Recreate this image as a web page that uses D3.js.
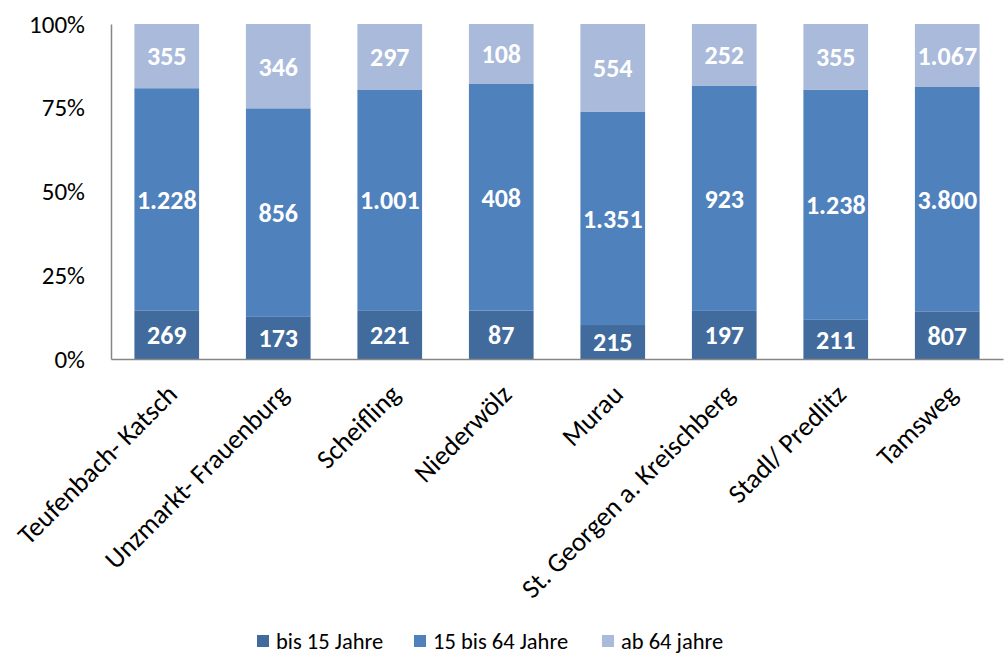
<!DOCTYPE html>
<html>
<head>
<meta charset="utf-8">
<script src="https://cdn.jsdelivr.net/npm/d3@7"></script>
<style>
  body { margin: 0; background: #fff; }
  svg { font-family: Calibri, Carlito, Lato, "Open Sans", sans-serif; }
</style>
</head>
<body>
<svg id="chart" width="1008" height="655"></svg>
<script>
// data
var orte = ["Teufenbach- Katsch", "Unzmarkt- Frauenburg", "Scheifling", "Niederwölz",
            "Murau", "St. Georgen a. Kreischberg", "Stadl/ Predlitz", "Tamsweg"];
var bis15 = [269, 173, 221, 87, 215, 197, 211, 807];
var mitte = [1228, 856, 1001, 408, 1351, 923, 1238, 3800];
var ab64 = [355, 346, 297, 108, 554, 252, 355, 1067];
var serien = ["bis 15 Jahre", "15 bis 64 Jahre", "ab 64 jahre"];
var farben = ["#416b9c", "#4f81bd", "#a9badb"];
var yTicks = [0, 0.25, 0.5, 0.75, 1];

var rows = orte.map(function(o, i) {
    return { ort: o, s0: bis15[i], s1: mitte[i], s2: ab64[i] };
});

var svg = d3.select("#chart");

var x = d3.scaleBand()
    .domain(orte)
    .range([111, 1003])
    .paddingInner(0.42)
    .paddingOuter(0.21);

var y = d3.scaleLinear()
    .domain([0, 1])
    .range([359, 24]);

var stack = d3.stack()
    .keys(["s0", "s1", "s2"])
    .offset(d3.stackOffsetExpand);

var layers = stack(rows);

var fmt = d3.formatLocale({ decimal: ",", thousands: ".", grouping: [3], currency: ["", "€"] }).format(",");

// bars
var g = svg.selectAll("g.layer")
    .data(layers)
    .enter()
    .append("g")
    .attr("class", "layer")
    .attr("fill", function(d, i) { return farben[i]; });

g.selectAll("rect")
    .data(function(d) { return d; })
    .enter()
    .append("rect")
    .attr("x", function(d) { return x(d.data.ort); })
    .attr("y", function(d) { return y(d[1]); })
    .attr("width", x.bandwidth())
    .attr("height", function(d) { return y(d[0]) - y(d[1]); });

// value labels
layers.forEach(function(layer) {
    svg.append("g")
        .selectAll("text")
        .data(layer)
        .enter()
        .append("text")
        .attr("x", function(d) { return x(d.data.ort) + x.bandwidth() / 2; })
        .attr("y", function(d) { return (y(d[0]) + y(d[1])) / 2; })
        .attr("dy", "0.36em")
        .attr("text-anchor", "middle")
        .attr("fill", "#fff")
        .attr("font-weight", "bold")
        .attr("font-size", 26)
        .text(function(d) { return fmt(d.data[layer.key]); });
});

// y axis
var yAxis = svg.append("g")
    .attr("transform", "translate(111,0)")
    .call(d3.axisLeft(y).tickValues(yTicks).tickFormat(d3.format(".0%")).tickSize(0).tickPadding(26))
    .attr("font-family", null)
    .attr("font-size", null);
yAxis.select(".domain").attr("stroke", "#868686").attr("stroke-width", 1.5);
yAxis.selectAll("text").attr("font-size", 25).attr("fill", "#000");

// x axis
var xAxis = svg.append("g")
    .attr("transform", "translate(0,359)")
    .call(d3.axisBottom(x).tickSize(0).tickPadding(0))
    .attr("font-family", null)
    .attr("font-size", null);
xAxis.select(".domain").attr("stroke", "#868686").attr("stroke-width", 1.5);
xAxis.selectAll("text")
    .attr("font-size", 27)
    .attr("fill", "#000")
    .attr("text-anchor", "end")
    .attr("dy", null)
    .attr("y", 0)
    .attr("transform", "translate(12,37) rotate(-45)");

// legend
var legX = [257, 414, 602];
var leg = svg.selectAll("g.leg")
    .data(serien)
    .enter()
    .append("g")
    .attr("class", "leg")
    .attr("transform", function(d, i) { return "translate(" + legX[i] + ",641)"; });
leg.append("rect")
    .attr("x", 0)
    .attr("y", -6)
    .attr("width", 12)
    .attr("height", 12)
    .attr("fill", function(d, i) { return farben[i]; });
leg.append("text")
    .attr("x", 19)
    .attr("dy", "0.36em")
    .attr("font-size", 22.5)
    .text(function(d) { return d; });
</script>
</body>
</html>
